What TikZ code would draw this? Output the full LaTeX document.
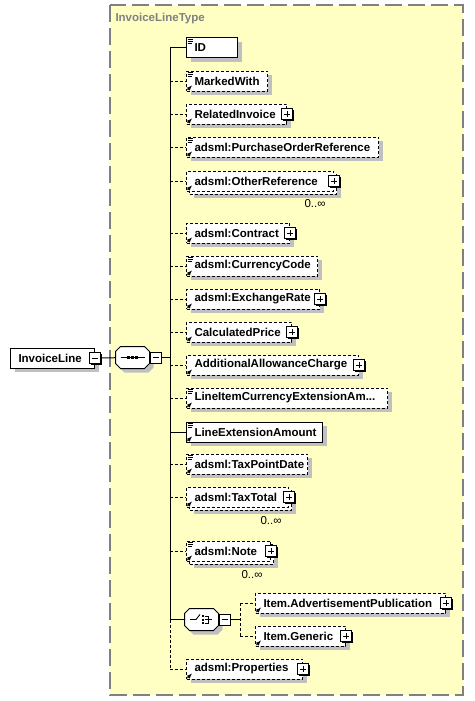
\documentclass[tikz,border=0pt]{standalone}
\usepackage{fontspec}
\setmainfont{Liberation Sans}
\usepackage{xcolor}
\usepackage{tikz}
\usetikzlibrary{arrows}
\usetikzlibrary{shadows}

\definecolor{bgyellow}{HTML}{FFFFC4}
\definecolor{framegrey}{HTML}{808080}
\definecolor{shadowgrey}{HTML}{C0C0C0}

\newcommand{\elemfont}{\bfseries\fontsize{11.5}{13}\selectfont}
\newcommand{\occfont}{\fontsize{11.5}{13}\selectfont}
% three lines: simple content
\newcommand{\simpicon}[1]{\draw [line width=0.8pt] ([shift={(1.5,1.5)}]#1.north west) -- ++(5,0) ([shift={(1.5,3.5)}]#1.north west) -- ++(5,0) ([shift={(1.5,5.5)}]#1.north west) -- ++(4,0);}
% small arrow: reference
\newcommand{\reficon}[1]{\draw [-latex, line width=0.8pt] ([shift={(1.5,-1.5)}]#1.south west) -- ++(4.5,-4.5);}
% compositor outline
\newcommand{\octpath}[1]{([xshift=5pt]#1.north west) -- ([xshift=-5pt]#1.north east) -- ([yshift=-5pt]#1.north east) -- ([yshift=5pt]#1.south east) -- ([xshift=-5pt]#1.south east) -- ([xshift=5pt]#1.south west) -- ([yshift=5pt]#1.south west) -- ([yshift=-5pt]#1.north west) -- cycle}
\newcommand{\octagon}[1]{\fill [shadowgrey, transform canvas={shift={(4pt,-4pt)}}] \octpath{#1}; \draw [fill=white] \octpath{#1};}

\begin{document}
\begin{tikzpicture}[x=1pt, y=-1pt, line width=1pt,
  elem/.style={rectangle, draw=black, fill=white, anchor=west, minimum height=20pt, inner xsep=8pt, inner ysep=0pt, align=left, font=\elemfont},
  onebox/.style={elem, general shadow={fill=shadowgrey, shadow xshift=4pt, shadow yshift=-4pt}},
  manybox/.style={elem, general shadow={fill=shadowgrey, shadow xshift=7pt, shadow yshift=-7pt}, general shadow={draw=black, fill=white, dash pattern=on 3pt off 2pt, shadow xshift=3pt, shadow yshift=-3pt}},
  opt/.style={dash pattern=on 3pt off 2pt},
  comp/.style={rectangle, minimum width=33pt, minimum height=21pt, inner sep=0pt},
  mbox/.style={rectangle, draw=black, fill=white, minimum size=11pt, inner sep=0pt, general shadow={fill=black, shadow xshift=1pt, shadow yshift=-1pt}, path picture={\draw ([xshift=2.5pt]path picture bounding box.west) -- ([xshift=-2.5pt]path picture bounding box.east);}},
  pbox/.style={rectangle, draw=black, fill=white, minimum size=11pt, inner sep=0pt, general shadow={fill=black, shadow xshift=1pt, shadow yshift=-1pt}, path picture={\draw ([xshift=2.5pt]path picture bounding box.west) -- ([xshift=-2.5pt]path picture bounding box.east) ([yshift=2.5pt]path picture bounding box.south) -- ([yshift=-2.5pt]path picture bounding box.north);}},
  occ/.style={anchor=east, inner sep=0pt, font=\occfont}]
\useasboundingbox [fill=white] (0,0) rectangle (474,701);

% complex type frame
\draw [fill=bgyellow, draw=framegrey, line width=1.5pt, dash pattern=on 17pt off 6pt] (110,5) rectangle (463,695);
\node [anchor=west, inner sep=0pt, text=framegrey, font=\elemfont] (typename) at (115,19) {InvoiceLineType};

% root element and sequence
\node [onebox, text width=68pt] (il) at (10,358) {InvoiceLine};
\node [mbox] (il-m) at (il.east) {};
\node [comp] (seq) at (132.5,357.5) {};
\octagon{seq}
\node [mbox] (seq-m) at ([xshift=6pt]seq.east) {};
\draw ([xshift=-12pt]seq.center) -- ([xshift=12pt]seq.center);
\fill ([xshift=-5.5pt, yshift=-1.5pt]seq.center) rectangle ([xshift=-2.5pt, yshift=1.5pt]seq.center);
\fill ([xshift=-1.5pt, yshift=-1.5pt]seq.center) rectangle ([xshift=1.5pt, yshift=1.5pt]seq.center);
\fill ([xshift=2.5pt, yshift=-1.5pt]seq.center) rectangle ([xshift=5.5pt, yshift=1.5pt]seq.center);
\coordinate (trunk) at (170,357.5);

% children of the sequence
\node [onebox, text width=35pt] (id) at (186,48) {ID};
\node [onebox, opt, text width=65pt] (marked) at (186,81) {MarkedWith};
\node [onebox, opt, text width=84pt] (relinv) at (186,114) {RelatedInvoice};
\node [pbox] (relinv-p) at (relinv.east) {};
\node [onebox, opt, text width=176pt] (poref) at (186,147) {adsml:PurchaseOrderReference};
\node [manybox, opt, text width=131pt] (otherref) at (186,181) {adsml:OtherReference};
\node [pbox] (otherref-p) at (otherref.east) {};
\node [occ] (otherref-o) at ([shift={(-8,23)}]otherref.east) {0..∞};
\node [onebox, opt, text width=87pt] (contract) at (186,233) {adsml:Contract};
\node [pbox] (contract-p) at (contract.east) {};
\node [onebox, opt, text width=115pt] (curcode) at (186,266) {adsml:CurrencyCode};
\node [onebox, opt, text width=117pt] (exrate) at (186,299) {adsml:ExchangeRate};
\node [pbox] (exrate-p) at (exrate.east) {};
\node [onebox, opt, text width=89pt] (calcprice) at (186,332) {CalculatedPrice};
\node [pbox] (calcprice-p) at (calcprice.east) {};
\node [onebox, opt, text width=156pt] (allowance) at (186,365) {AdditionalAllowanceCharge};
\node [pbox] (allowance-p) at (allowance.east) {};
\node [onebox, opt, text width=185pt] (licur) at (186,398) {LineItemCurrencyExtensionAm...};
\node [onebox, text width=120pt] (lineext) at (186,432) {LineExtensionAmount};
\node [onebox, opt, text width=105pt] (taxdate) at (186,464) {adsml:TaxPointDate};
\node [manybox, opt, text width=86pt] (taxtotal) at (186,497) {adsml:TaxTotal};
\node [pbox] (taxtotal-p) at (taxtotal.east) {};
\node [occ] (taxtotal-o) at ([shift={(-7,24)}]taxtotal.east) {0..∞};
\node [manybox, opt, text width=68pt] (note) at (186,551) {adsml:Note};
\node [pbox] (note-p) at (note.east) {};
\node [occ] (note-o) at ([shift={(-8,23.5)}]note.east) {0..∞};
\node [comp] (choice) at (201.5,619.5) {};
\octagon{choice}
\node [mbox] (choice-m) at ([xshift=6pt]choice.east) {};
\node [onebox, opt, text width=100pt] (props) at (186,669) {adsml:Properties};
\node [pbox] (props-p) at (props.east) {};

% choice icon
\draw [line width=0.9pt] ([shift={(-11.5,0)}]choice.center) -- ([shift={(-5.5,0)}]choice.center) -- ([shift={(-1.5,-5)}]choice.center);
\fill ([shift={(0,-4.5)}]choice.center) rectangle ([shift={(2,-2.5)}]choice.center);
\fill ([shift={(0,-1)}]choice.center) rectangle ([shift={(2,1)}]choice.center);
\fill ([shift={(0,2.5)}]choice.center) rectangle ([shift={(2,4.5)}]choice.center);
\draw [line width=0.9pt] ([shift={(3,-3.5)}]choice.center) -- ([shift={(7,-3.5)}]choice.center) -- ([shift={(7,3.5)}]choice.center) -- ([shift={(3,3.5)}]choice.center) ([shift={(3,0)}]choice.center) -- ([shift={(10,0)}]choice.center);
\coordinate (chtrunk) at (240,619.5);

% children of the choice
\node [onebox, opt, text width=174pt] (advpub) at (255,603) {Item.AdvertisementPublication};
\node [pbox] (advpub-p) at (advpub.east) {};
\node [onebox, opt, text width=74pt] (generic) at (255,636) {Item.Generic};
\node [pbox] (generic-p) at (generic.east) {};

% icons
\simpicon{id}
\simpicon{marked} \reficon{marked}
\reficon{relinv}
\simpicon{poref} \reficon{poref}
\reficon{otherref}
\reficon{contract}
\simpicon{curcode} \reficon{curcode}
\reficon{exrate}
\reficon{calcprice}
\reficon{allowance}
\simpicon{licur} \reficon{licur}
\simpicon{lineext} \reficon{lineext}
\simpicon{taxdate} \reficon{taxdate}
\reficon{taxtotal}
\simpicon{note} \reficon{note}
\reficon{advpub}
\reficon{generic}
\reficon{props}

% connectors
\draw (il-m) -- (seq);
\draw (seq-m) -- (trunk);
\draw (id.west -| trunk) -- (choice.west -| trunk);
\draw [opt] (choice.west -| trunk) -- (props.west -| trunk);
\draw (id.west -| trunk) -- (id.west);
\draw [opt] (marked.west -| trunk) -- (marked.west);
\draw [opt] (relinv.west -| trunk) -- (relinv.west);
\draw [opt] (poref.west -| trunk) -- (poref.west);
\draw [opt] (otherref.west -| trunk) -- (otherref.west);
\draw [opt] (contract.west -| trunk) -- (contract.west);
\draw [opt] (curcode.west -| trunk) -- (curcode.west);
\draw [opt] (exrate.west -| trunk) -- (exrate.west);
\draw [opt] (calcprice.west -| trunk) -- (calcprice.west);
\draw [opt] (allowance.west -| trunk) -- (allowance.west);
\draw [opt] (licur.west -| trunk) -- (licur.west);
\draw (lineext.west -| trunk) -- (lineext.west);
\draw [opt] (taxdate.west -| trunk) -- (taxdate.west);
\draw [opt] (taxtotal.west -| trunk) -- (taxtotal.west);
\draw [opt] (note.west -| trunk) -- (note.west);
\draw (choice.west -| trunk) -- (choice.west);
\draw [opt] (props.west -| trunk) -- (props.west);
\draw (choice-m) -- (chtrunk);
\draw [opt] (advpub.west -| chtrunk) -- (generic.west -| chtrunk);
\draw [opt] (advpub.west -| chtrunk) -- (advpub.west);
\draw [opt] (generic.west -| chtrunk) -- (generic.west);
\end{tikzpicture}
\end{document}
